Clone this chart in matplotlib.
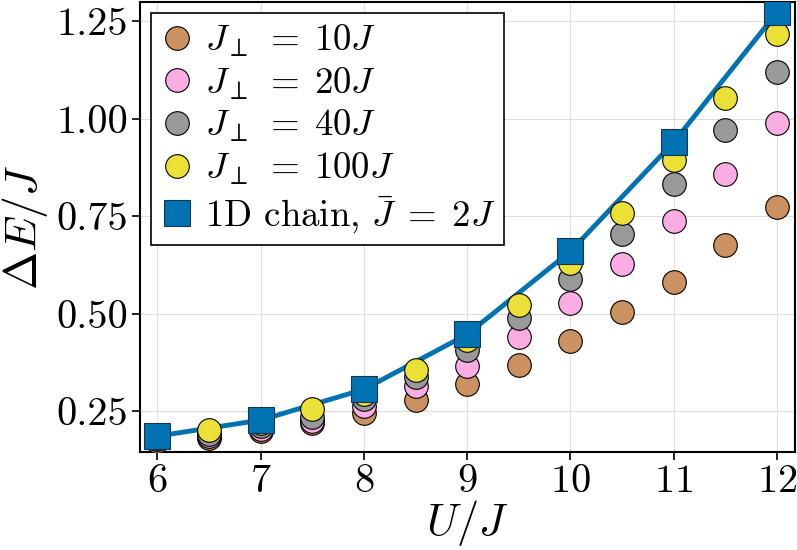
import numpy as np
import matplotlib.pyplot as plt

plt.rcParams['font.family'] = 'serif'
plt.rcParams['font.serif'] = ['cmr10']
plt.rcParams['mathtext.fontset'] = 'cm'
plt.rcParams['axes.formatter.use_mathtext'] = True
plt.rcParams['axes.unicode_minus'] = False

# data
u_half = [6, 6.5, 7, 7.5, 8, 8.5, 9, 9.5, 10, 10.5, 11, 11.5, 12]
gap_10 = [0.173, 0.181, 0.198, 0.219, 0.245, 0.279, 0.319, 0.368, 0.429, 0.504, 0.581, 0.676, 0.773]
gap_20 = [0.178, 0.186, 0.205, 0.226, 0.262, 0.314, 0.367, 0.440, 0.527, 0.627, 0.737, 0.858, 0.988]
gap_40 = [0.182, 0.192, 0.212, 0.236, 0.280, 0.337, 0.408, 0.488, 0.588, 0.704, 0.832, 0.970, 1.119]
gap_100 = [0.185, 0.201, 0.220, 0.256, 0.295, 0.355, 0.432, 0.522, 0.630, 0.758, 0.894, 1.053, 1.217]
u_chain = [6, 7, 8, 9, 10, 11, 12]
gap_chain = [0.186, 0.227, 0.306, 0.447, 0.660, 0.940, 1.273]

labels = [r'$J_\perp \;=\; 10J$', r'$J_\perp \;=\; 20J$', r'$J_\perp \;=\; 40J$', r'$J_\perp \;=\; 100J$']
colors = ['#CB9160', '#F9ADE2', '#999999', '#EBE136']
blue = '#0173B2'

fig, ax = plt.subplots(figsize=(7.97, 5.5), dpi=100)
fig.subplots_adjust(left=0.176, right=0.997, top=0.996, bottom=0.178)

ax.plot(u_chain, gap_chain, '-', color=blue, lw=3.5, zorder=3)
for g, c, lab in zip([gap_10, gap_20, gap_40, gap_100], colors, labels):
    ax.plot(u_half, g, 'o', ms=17, mfc=c, mec='black', mew=0.8, ls='none', label=lab, zorder=4)
ax.plot(u_chain, gap_chain, 's', ms=18.5, mfc=blue, mec='#1a3550', mew=0.8, ls='none',
        label=r'1D chain, $\bar{J} \;=\; 2J$', zorder=5)

ax.set_xlim(5.835, 12.17)
ax.set_ylim(0.145, 1.299)
ax.set_xticks([6, 7, 8, 9, 10, 11, 12])
ax.set_yticks([0.25, 0.50, 0.75, 1.00, 1.25])
ax.set_yticklabels(['0.25', '0.50', '0.75', '1.00', '1.25'])
ax.tick_params(labelsize=29, direction='out', length=6, width=1.2, pad=3)
ax.set_xlabel(r'$U/J$', fontsize=32, labelpad=-2)
ax.set_ylabel(r'$\Delta E/J$', fontsize=33, labelpad=4)
ax.grid(color='#dddddd', lw=0.8)
ax.set_axisbelow(True)
for s in ax.spines.values():
    s.set_linewidth(1.5)

leg = ax.legend(loc='upper left', fontsize=26.5, frameon=True, fancybox=False,
                framealpha=1, edgecolor='black', handletextpad=0.3,
                labelspacing=0.18, borderpad=0.25, handlelength=0.9,
                borderaxespad=0.3)
leg.get_frame().set_linewidth(1.2)

fig.savefig('out.png', dpi=100)
